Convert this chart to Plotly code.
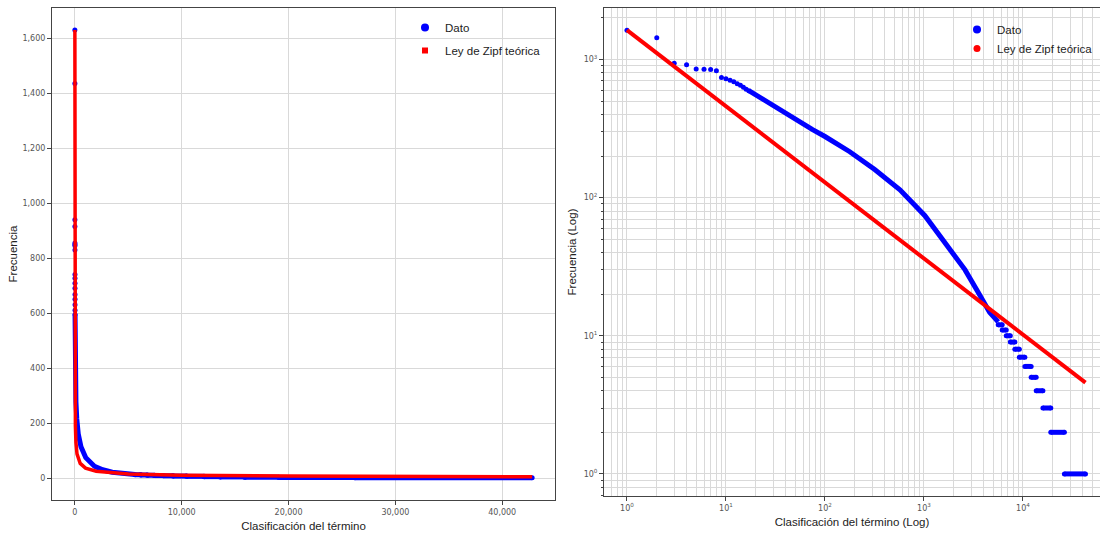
import plotly.graph_objects as go

# ---------------- data ----------------
# individual top-ranked terms
top_ranks = [1, 2, 3, 4, 5, 6, 7, 8, 9, 10, 11, 12, 13, 14, 15, 16, 17]
top_freqs = [1630, 1435, 940, 915, 855, 850, 845, 830, 740, 727, 709, 690, 668, 650, 630, 610, 595]

# dense middle part of the rank/frequency curve
mid_ranks = [17, 22, 27, 37, 47, 58, 75, 100, 178, 318, 572, 1022, 1830, 2600, 3500, 4600, 5620]
mid_freqs = [596, 531, 480, 427, 380, 344, 311, 277, 215, 160, 114, 74, 43, 30, 20.8, 14.8, 12.6]

# low frequencies: each frequency level and the first rank at which it appears
step_freqs = [12, 11, 10, 9, 8, 7, 6, 5, 4, 3, 2, 1]
step_start = [5620, 6170, 6780, 7450, 8280, 9190, 10450, 12100, 13600, 15900, 19100, 26200]
last_rank = 42800

# theoretical Zipf law values
zipf_ranks = [1, 2, 3, 5, 10, 20, 50, 100, 200, 500, 1000, 2000, 5000, 10000, 20000, 42800]
zipf_freqs = [1630, 1113, 890, 672, 458, 313, 189, 129, 88, 53, 36.2, 24.7, 14.9, 10.2, 6.95, 4.58]

# build step segments (start..end of each frequency level)
step_x, step_y = [], []
for i, (f, s) in enumerate(zip(step_freqs, step_start)):
    e = step_start[i + 1] - 1 if i + 1 < len(step_start) else last_rank
    step_x += [s, e, None]
    step_y += [f, f, None]

BLUE = "#0000ff"
RED = "#ff0000"
GRID = "#d9d9d9"
SPINE = "#444444"
TICKFONT = dict(family="DejaVu Sans", size=8, color="#555555")
TITLEFONT = dict(family="Liberation Sans", size=11.5, color="#222222")

fig = go.Figure()

for xa, ya, lg in (("x", "y", "legend"), ("x2", "y2", "legend2")):
    fig.add_trace(go.Scatter(x=mid_ranks, y=mid_freqs, mode="lines", xaxis=xa, yaxis=ya,
                             line=dict(color=BLUE, width=5), showlegend=False))
    fig.add_trace(go.Scatter(x=step_x, y=step_y, mode="lines+markers", xaxis=xa, yaxis=ya,
                             line=dict(color=BLUE, width=5), marker=dict(color=BLUE, size=5),
                             showlegend=False))
    fig.add_trace(go.Scatter(x=top_ranks, y=top_freqs, mode="markers", xaxis=xa, yaxis=ya,
                             marker=dict(color=BLUE, size=5), showlegend=False))
    fig.add_trace(go.Scatter(x=zipf_ranks, y=zipf_freqs, mode="lines", xaxis=xa, yaxis=ya,
                             line=dict(color=RED, width=4 if xa == "x2" else 3.5),
                             showlegend=False))
    # legend entries
    fig.add_trace(go.Scatter(x=[None], y=[None], mode="markers", name="Dato",
                             marker=dict(color=BLUE, size=8), legend=lg, legendgroup=lg + "a",
                             xaxis=xa, yaxis=ya))
    fig.add_trace(go.Scatter(x=[None], y=[None], mode="markers", name="Ley de Zipf teórica",
                             marker=dict(color=RED, size=7 if lg == "legend2" else 6,
                                         symbol="circle" if lg == "legend2" else "square"),
                             legend=lg, legendgroup=lg + "b", xaxis=xa, yaxis=ya))

common = dict(showline=True, mirror=True, linecolor=SPINE, linewidth=1,
              showgrid=True, gridcolor=GRID, gridwidth=1, zeroline=False,
              ticks="outside", ticklen=4, tickcolor=SPINE, tickfont=TICKFONT,
              title_font=TITLEFONT)

minor_x = [m * 10 ** p for p in range(-1, 5) for m in range(2, 10)]
minor_y = [m * 10 ** p for p in range(-1, 4) for m in range(2, 10)]

fig.update_layout(
    width=1100, height=538,
    margin=dict(l=0, r=0, t=0, b=0),
    paper_bgcolor="white", plot_bgcolor="white",
    xaxis=dict(domain=[52 / 1100, 555 / 1100], range=[-2140, 44940],
               tickvals=[0, 10000, 20000, 30000, 40000], tickformat=",",
               title=dict(text="Clasificación del término", standoff=6), anchor="y", **common),
    yaxis=dict(domain=[1 - 500 / 538, 1 - 8 / 538], range=[-80, 1710],
               tickvals=[0, 200, 400, 600, 800, 1000, 1200, 1400, 1600], tickformat=",",
               title=dict(text="Frecuencia", standoff=2), anchor="x", **common),
    xaxis2=dict(domain=[604 / 1100, 1.0], type="log", range=[-0.232, 4.778],
                tickvals=[1, 10, 100, 1000, 10000],
                ticktext=["10<sup>0</sup>", "10<sup>1</sup>", "10<sup>2</sup>", "10<sup>3</sup>", "10<sup>4</sup>"],
                minor=dict(tickvals=minor_x, showgrid=True, gridcolor=GRID, ticks=""),
                title=dict(text="Clasificación del término (Log)", standoff=6), anchor="y2", **common),
    yaxis2=dict(domain=[1 - 496 / 538, 1 - 8 / 538], type="log", range=[-0.16, 3.373],
                tickvals=[1, 10, 100, 1000],
                ticktext=["10<sup>0</sup>", "10<sup>1</sup>", "10<sup>2</sup>", "10<sup>3</sup>"],
                minor=dict(tickvals=minor_y, showgrid=True, gridcolor=GRID, ticks="outside",
                           ticklen=2, tickcolor=SPINE),
                title=dict(text="Frecuencia (Log)", standoff=4), anchor="x2", **common),
    legend=dict(x=405 / 1100, y=1 - 13 / 538, xanchor="left", yanchor="top",
                bgcolor="rgba(255,255,255,0)", tracegroupgap=4,
                font=dict(family="Liberation Sans", size=11.5, color="#222222")),
    legend2=dict(x=957 / 1100, y=1 - 15 / 538, xanchor="left", yanchor="top",
                 bgcolor="rgba(255,255,255,0)", tracegroupgap=0,
                 font=dict(family="Liberation Sans", size=11.5, color="#222222")),
)

fig.write_html("out.html")
